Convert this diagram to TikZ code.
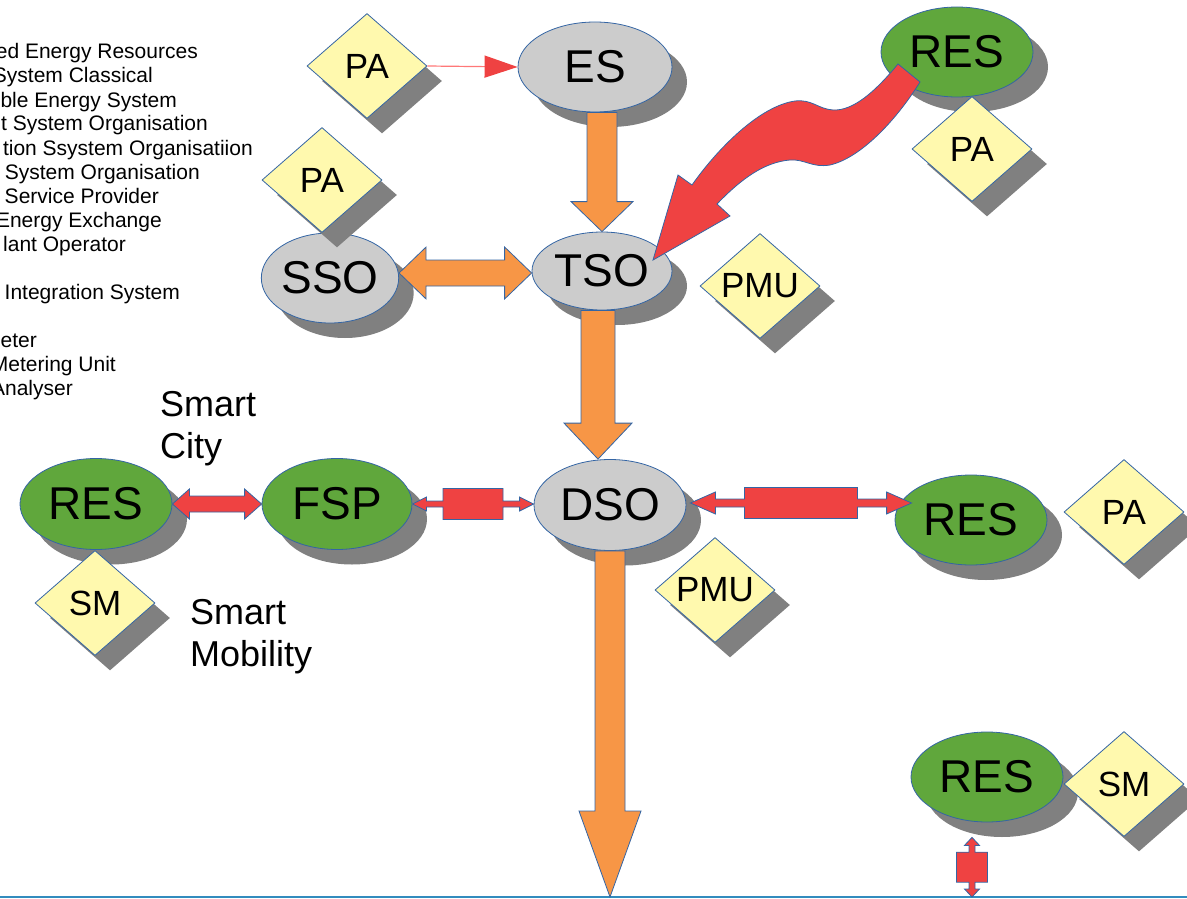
\documentclass[tikz,border=0pt]{standalone}
\usepackage{fontspec}
\setmainfont{Liberation Sans}
\usetikzlibrary{shapes.geometric,shadows,calc,arrows.meta}

\definecolor{outline}{RGB}{52,101,164}
\definecolor{nodegray}{RGB}{204,204,204}
\definecolor{resgreen}{RGB}{96,167,60}
\definecolor{shadowgray}{RGB}{128,128,128}
\definecolor{devicefill}{RGB}{255,249,174}
\definecolor{flow}{RGB}{247,150,70}
\definecolor{arrowred}{RGB}{239,66,66}
\definecolor{linkred}{RGB}{255,120,120}
\definecolor{groundblue}{RGB}{50,140,190}

\tikzset{
  solidshadow/.style={drop shadow={shadow xshift=15pt, shadow yshift=-15pt, fill=shadowgray, opacity=1}},
  actor/.style={ellipse, draw=outline, line width=0.8pt, inner sep=0pt, solidshadow,
    font=\fontsize{46}{55}\selectfont},
  operator/.style={actor, fill=nodegray},
  resource/.style={actor, fill=resgreen},
  device/.style={diamond, draw=outline, line width=0.8pt, fill=devicefill, inner sep=0pt,
    minimum width=120pt, minimum height=105pt, aspect=1.14, solidshadow,
    font=\fontsize{35}{42}\selectfont},
  legendline/.style={anchor=base east, inner sep=0pt, font=\fontsize{21}{25}\selectfont},
  domainlabel/.style={anchor=north west, inner sep=0pt, align=left, font=\fontsize{36}{42}\selectfont},
  flowarrow/.style={fill=flow, draw=outline, line width=0.8pt},
  redarrow/.style={fill=arrowred, draw=outline, line width=0.8pt},
  linkarrow/.style={draw=linkred, line width=1.2pt, -{Triangle[length=33pt,width=22pt,color=arrowred]}},
  groundline/.style={draw=groundblue, line width=2pt},
}

% downward block arrow: shaft starts at the height of #1, tip at #2
\newcommand\downblock[5]{%
  \filldraw[flowarrow] let \p1=(#1), \p2=(#2) in
    (\x2-#3,\y1) -- (\x2+#3,\y1) -- (\x2+#3,\y2+#5) -- (\x2+#4,\y2+#5) -- (\x2,\y2)
    -- (\x2-#4,\y2+#5) -- (\x2-#3,\y2+#5) -- cycle;}

% horizontal double-headed block arrow between two tips (height of #1)
\newcommand\hdouble[6]{%
  \filldraw[#6] let \p1=(#1), \p2=(#2) in
    (\x1,\y1) -- (\x1+#5,\y1+#4) -- (\x1+#5,\y1+#3) -- (\x2-#5,\y1+#3) -- (\x2-#5,\y1+#4)
    -- (\x2,\y1) -- (\x2-#5,\y1-#4) -- (\x2-#5,\y1-#3) -- (\x1+#5,\y1-#3) -- (\x1+#5,\y1-#4) -- cycle;}

% horizontal double arrow with a box in the middle
\newcommand\hcallout[7]{%
  \filldraw[redarrow] let \p1=(#1), \p2=(#2), \p3=($(#1)!.5!(#2)$) in
    (\x1,\y1) -- (\x1+#5,\y1+#4) -- (\x1+#5,\y1+#3) -- (\x3-#7,\y1+#3) -- (\x3-#7,\y1+#6)
    -- (\x3+#7,\y1+#6) -- (\x3+#7,\y1+#3) -- (\x2-#5,\y1+#3) -- (\x2-#5,\y1+#4) -- (\x2,\y1)
    -- (\x2-#5,\y1-#4) -- (\x2-#5,\y1-#3) -- (\x3+#7,\y1-#3) -- (\x3+#7,\y1-#6)
    -- (\x3-#7,\y1-#6) -- (\x3-#7,\y1-#3) -- (\x1+#5,\y1-#3) -- (\x1+#5,\y1-#4) -- cycle;}

% vertical double arrow with a box in the middle
\newcommand\vcallout[7]{%
  \filldraw[redarrow] let \p1=(#1), \p2=(#2), \p3=($(#1)!.5!(#2)$) in
    (\x1,\y1) -- (\x1+#4,\y1-#5) -- (\x1+#3,\y1-#5) -- (\x1+#3,\y3+#7) -- (\x1+#6,\y3+#7)
    -- (\x1+#6,\y3-#7) -- (\x1+#3,\y3-#7) -- (\x1+#3,\y2+#5) -- (\x1+#4,\y2+#5) -- (\x1,\y2)
    -- (\x1-#4,\y2+#5) -- (\x1-#3,\y2+#5) -- (\x1-#3,\y3-#7) -- (\x1-#6,\y3-#7)
    -- (\x1-#6,\y3+#7) -- (\x1-#3,\y3+#7) -- (\x1-#3,\y1-#5) -- (\x1-#4,\y1-#5) -- cycle;}

\begin{document}
\begin{tikzpicture}[x=1pt,y=-1pt]
\useasboundingbox (0,0) rectangle (1187,899);
\clip (0,0) rectangle (1187,899);

% abbreviation list
\node[legendline] (l1) at (198,59) {ed Energy Resources};
\node[legendline] (l2) at (153,83) {System Classical};
\node[legendline] (l3) at (177,107) {ble Energy System};
\node[legendline] (l4) at (208,131) {t System Organisation};
\node[legendline] (l5) at (253,155) {tion Ssystem Organisatiion};
\node[legendline] (l6) at (200,179) {System Organisation};
\node[legendline] (l7) at (159,203) {Service Provider};
\node[legendline] (l8) at (162,227) {Energy Exchange};
\node[legendline] (l9) at (126,251) {lant Operator};
\node[legendline] (l10) at (180,299) {Integration System};
\node[legendline] (l11) at (37,347) {eter};
\node[legendline] (l12) at (116,371) {Metering Unit};
\node[legendline] (l13) at (73,395) {Analyser};

% domain labels
\node[domainlabel] (city) at (160,391) {Smart\\City};
\node[domainlabel] (mobility) at (190,599) {Smart\\Mobility};

% operators
\node[operator, minimum width=154pt, minimum height=90pt] (es) at (595,67) {ES};
\node[operator, minimum width=140pt, minimum height=78pt] (tso) at (602,271) {TSO};
\node[operator, minimum width=136pt, minimum height=90pt] (sso) at (330,278) {SSO};
\node[operator, minimum width=152pt, minimum height=91pt] (dso) at (610,505) {DSO};

% resources and flexibility providers
\node[resource, minimum width=152pt, minimum height=90pt] (resN) at (957,52) {RES};
\node[resource, minimum width=152pt, minimum height=91pt] (resW) at (96,504) {RES};
\node[resource, minimum width=150pt, minimum height=91pt] (fsp) at (337,504) {FSP};
\node[resource, minimum width=152pt, minimum height=90pt] (resE) at (971,520) {RES};
\node[resource, minimum width=152pt, minimum height=90pt] (resS) at (987,777) {RES};

% measuring devices
\node[device] (paES) at (367,66) {PA};
\node[device] (paSSO) at (322,180) {PA};
\node[device] (paRES) at (972,149) {PA};
\node[device] (pmuT) at (760,286) {PMU};
\node[device] (pmuD) at (715,590) {PMU};
\node[device] (paE) at (1124,512) {PA};
\node[device] (smW) at (95,603) {SM};
\node[device] (smS) at (1124,784) {SM};

% grid line at the bottom
\coordinate (groundL) at (0,897);
\coordinate (groundR) at (1187,897);
\draw[groundline] (groundL) -- (groundR);

% helper points for the block arrows
\coordinate (ssoOut) at ($(sso.east)+(0,-5)$);
\coordinate (tsoIn) at (tso.west |- ssoOut);
\coordinate (dsoInRaw) at (tso.south |- dso.north);
\coordinate (dsoIn) at ($(dsoInRaw)+(-4,0)$);
\coordinate (dsoGround) at (dso.south |- groundL);
\coordinate (dsoOut) at ($(dso.east)+(4,-2)$);
\coordinate (resInRaw) at ($(resE.west)+(17,0)$);
\coordinate (resIn) at (resInRaw |- dsoOut);
\coordinate (storeTop) at ($(resS.south)+(-15,15)$);
\coordinate (storeBottom) at (storeTop |- groundL);

% energy flow
\downblock{es.south}{tso.north}{15pt}{31pt}{30pt}
\downblock{tso.south}{dsoIn}{17pt}{34pt}{36pt}
\downblock{dso.south}{dsoGround}{15pt}{31pt}{86pt}
\hdouble{ssoOut}{tsoIn}{13pt}{26pt}{27pt}{flowarrow}
\hdouble{resW.east}{fsp.west}{8pt}{15pt}{17pt}{redarrow}
\hcallout{fsp.east}{dso.west}{3pt}{7pt}{14pt}{15.5pt}{30pt}
\hcallout{dsoOut}{resIn}{4pt}{11pt}{25pt}{15.5pt}{56.5pt}
\vcallout{storeTop}{storeBottom}{3pt}{7.5pt}{8pt}{15.5pt}{15pt}

% measurement link
\draw[linkarrow] (paES.east) -- (es.west);

% renewable infeed into the transmission level
\filldraw[redarrow] (898,64) .. controls (875,92) and (853,111) .. (833,110)
  .. controls (818,109) and (812,99) .. (795,101)
  .. controls (760,106) and (718,148) .. (692,185)
  -- (678,175) -- (653,260) -- (730,216) -- (717,204)
  .. controls (742,178) and (765,162) .. (790,160)
  .. controls (805,159) and (812,168) .. (830,165)
  .. controls (860,158) and (895,122) .. (920,82) -- cycle;
\end{tikzpicture}
\end{document}
